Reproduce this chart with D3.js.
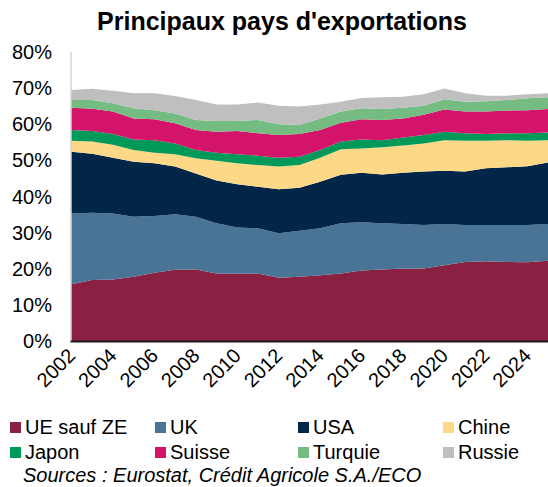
<!DOCTYPE html>
<html>
<head>
<meta charset="utf-8">
<script src="https://cdn.jsdelivr.net/npm/d3@7"></script>
<style>
  body { margin: 0; background: #fff; }
  svg { font-family: "Liberation Sans", Arial, sans-serif; }
</style>
</head>
<body>
<svg id="chart" width="548" height="487"></svg>
<script>
// years on the x axis
var years = d3.range(2002, 2026);

// share of exports, %
var ue_sauf_ze = [15.7, 16.9, 17.0, 17.8, 18.9, 19.7, 19.8, 18.7, 18.7, 18.7, 17.5, 17.8, 18.2, 18.7, 19.5, 19.8, 20.1, 20.1, 21.0, 21.9, 22.1, 21.9, 21.8, 22.2];
var uk         = [19.6, 18.6, 18.3, 16.6, 15.7, 15.4, 14.6, 13.9, 12.7, 12.5, 12.3, 12.7, 13.0, 13.9, 13.4, 12.8, 12.3, 12.0, 11.4, 10.2, 10.0, 10.2, 10.3, 10.2];
var usa        = [17.1, 16.3, 15.4, 15.2, 14.6, 13.2, 12.0, 11.8, 12.0, 11.5, 12.2, 11.9, 12.9, 13.4, 13.7, 13.5, 14.2, 14.8, 14.7, 14.8, 15.7, 16.0, 16.3, 17.0];
var chine      = [3.0, 3.4, 3.6, 3.3, 2.9, 3.4, 4.2, 5.5, 5.8, 6.0, 6.3, 6.3, 6.6, 7.1, 6.7, 7.5, 7.5, 7.8, 8.5, 8.5, 7.6, 7.5, 7.0, 6.2];
var japon      = [3.0, 2.9, 3.0, 2.9, 3.5, 3.0, 2.3, 2.2, 2.5, 2.6, 2.4, 2.3, 2.2, 2.1, 2.5, 2.0, 2.2, 2.3, 2.3, 2.1, 1.9, 1.9, 2.1, 2.1];
var suisse     = [6.2, 6.2, 6.2, 5.8, 5.8, 5.6, 5.5, 5.8, 6.4, 6.2, 6.3, 6.3, 5.5, 5.2, 5.6, 5.6, 5.3, 5.6, 6.2, 6.0, 6.2, 6.3, 6.4, 6.5];
var turquie    = [2.1, 2.4, 2.3, 2.8, 2.5, 2.7, 2.8, 3.0, 2.8, 3.7, 3.0, 2.5, 3.2, 3.1, 3.0, 3.0, 3.0, 2.5, 2.8, 2.7, 2.9, 2.9, 3.3, 3.3];
var russie     = [2.8, 3.1, 3.5, 4.2, 4.7, 4.8, 5.5, 4.6, 4.6, 4.8, 5.1, 5.1, 3.9, 2.7, 2.9, 3.3, 3.0, 3.2, 3.0, 2.4, 1.5, 1.2, 1.1, 1.1];

var series_names = ["UE sauf ZE", "UK", "USA", "Chine", "Japon", "Suisse", "Turquie", "Russie"];
var series_values = [ue_sauf_ze, uk, usa, chine, japon, suisse, turquie, russie];
var colors = ["#8b2142", "#497496", "#022647", "#fdd887", "#00995a", "#d4136a", "#75bc82", "#bfbfbf"];
var y_ticks = [0, 10, 20, 30, 40, 50, 60, 70, 80];
var x_ticks = d3.range(2002, 2026, 2);

var svg = d3.select("#chart");
var plot_left = 71.5, plot_right = 548, plot_top = 52, plot_bottom = 341;

var x = d3.scaleLinear().domain([2002, 2025]).range([plot_left, plot_right]);
var y = d3.scaleLinear().domain([0, 80]).range([plot_bottom, plot_top]);

// build rows for the stack
var rows = years.map(function(yr, i) {
  var row = {year: yr};
  series_names.forEach(function(name, j) { row[name] = series_values[j][i]; });
  return row;
});
var stacked = d3.stack().keys(series_names)(rows);

var area = d3.area()
  .x(function(d) { return x(d.data.year); })
  .y0(function(d) { return y(d[0]); })
  .y1(function(d) { return y(d[1]); });

svg.append("g").selectAll("path")
  .data(stacked).enter().append("path")
  .attr("d", area)
  .attr("fill", function(d, i) { return colors[i]; });

// title
svg.append("text")
  .attr("x", 282).attr("y", 30)
  .attr("text-anchor", "middle")
  .style("font-weight", "bold").style("font-size", "25px")
  .text("Principaux pays d'exportations");

// y axis
svg.append("line")
  .attr("x1", plot_left - 0.5).attr("x2", plot_left - 0.5)
  .attr("y1", plot_top).attr("y2", plot_bottom)
  .attr("stroke", "#bfbfbf").attr("stroke-width", 1);

svg.append("g").selectAll("text")
  .data(y_ticks).enter().append("text")
  .attr("x", 52).attr("y", function(d) { return y(d); })
  .attr("dy", "0.35em")
  .attr("text-anchor", "end")
  .style("font-size", "20px").attr("fill", "#000")
  .text(function(d) { return d + "%"; });

// x axis
svg.append("line")
  .attr("x1", plot_left - 1).attr("x2", plot_right)
  .attr("y1", plot_bottom + 0.5).attr("y2", plot_bottom + 0.5)
  .attr("stroke", "#1a1a1a").attr("stroke-width", 2);

svg.append("g").selectAll("text")
  .data(x_ticks).enter().append("text")
  .attr("transform", function(d) { return "translate(" + (x(d) + 5) + "," + 357 + ") rotate(-45)"; })
  .attr("text-anchor", "end")
  .style("font-size", "20px").attr("fill", "#000")
  .text(function(d) { return d; });

// legend
var legend_x = [10, 155, 298, 443];
var legend = svg.append("g").selectAll("g")
  .data(series_names).enter().append("g")
  .attr("transform", function(d, i) {
    return "translate(" + legend_x[i % 4] + "," + (427 + Math.floor(i / 4) * 25) + ")";
  });
legend.append("rect")
  .attr("x", 0).attr("y", -5).attr("width", 11).attr("height", 11)
  .attr("fill", function(d, i) { return colors[i]; });
legend.append("text")
  .attr("x", 15).attr("dy", "0.35em")
  .style("font-size", "20px").attr("fill", "#000")
  .text(function(d) { return d; });

// sources
svg.append("text")
  .attr("x", 23).attr("y", 482)
  .style("font-size", "20px").style("font-style", "italic")
  .text("Sources : Eurostat, Crédit Agricole S.A./ECO");
</script>
</body>
</html>
